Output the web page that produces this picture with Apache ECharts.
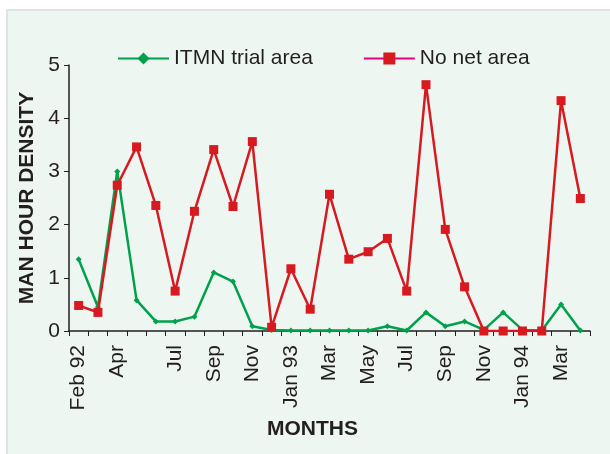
<!DOCTYPE html>
<html>
<head>
<meta charset="utf-8">
<script src="https://cdn.jsdelivr.net/npm/echarts@6/dist/echarts.min.js"></script>
<style>
  html, body { margin: 0; padding: 0; background: #fff; }
  #main { width: 610px; height: 454px; }
</style>
</head>
<body>
<div id="main"></div>
<script>
// monthly samples, Feb 1992 - Apr 1994
const months = ['Feb 92', 'Mar 92', 'Apr 92', 'May 92', 'Jun 92', 'Jul 92', 'Aug 92', 'Sep 92', 'Oct 92', 'Nov 92', 'Dec 92',
  'Jan 93', 'Feb 93', 'Mar 93', 'Apr 93', 'May 93', 'Jun 93', 'Jul 93', 'Aug 93', 'Sep 93', 'Oct 93', 'Nov 93', 'Dec 93',
  'Jan 94', 'Feb 94', 'Mar 94', 'Apr 94'];
// label printed under each month ('' = no label)
const tickLabels = ['Feb 92', '', 'Apr', '', '', 'Jul', '', 'Sep', '', 'Nov', '',
  'Jan 93', '', 'Mar', '', 'May', '', 'Jul', '', 'Sep', '', 'Nov', '',
  'Jan 94', '', 'Mar', ''];
const itmnTrial = [1.35, 0.45, 3.0, 0.58, 0.18, 0.18, 0.27, 1.1, 0.93, 0.09, 0.02,
  0.01, 0.01, 0.01, 0.01, 0.01, 0.09, 0.01, 0.35, 0.09, 0.18, 0.02, 0.35,
  0.02, 0.01, 0.5, 0.01];
const noNet = [0.48, 0.35, 2.74, 3.46, 2.36, 0.75, 2.25, 3.41, 2.34, 3.56, 0.07,
  1.17, 0.41, 2.57, 1.35, 1.49, 1.74, 0.75, 4.63, 1.91, 0.83, 0, 0,
  0, 0, 4.33, 2.49];

const GREEN = '#00a14b';
const RED = '#d71920';
const INK = '#231f20';
const FONT = 'Liberation Sans, Arial, sans-serif';

const chart = echarts.init(document.getElementById('main'));

const option = {
  backgroundColor: '#fff',
  textStyle: { fontFamily: FONT, color: INK },
  graphic: [
    {
      type: 'rect',
      z: -10,
      shape: { x: 7, y: 10, width: 620, height: 460 },
      style: { fill: '#eef6f1', stroke: '#dfe3e3', lineWidth: 2 }
    }
  ],
  legend: {
    left: 112,
    top: 43,
    itemWidth: 51,
    itemHeight: 15,
    itemGap: 50,
    textStyle: { fontSize: 21, color: INK, fontFamily: FONT },
    data: [
      { name: 'ITMN trial area' },
      { name: 'No net area', lineStyle: { color: '#e6007e' } }
    ]
  },
  grid: { left: 69, right: 20, top: 65, bottom: 123 },
  xAxis: {
    type: 'category',
    data: months,
    boundaryGap: true,
    name: 'MONTHS',
    nameLocation: 'middle',
    nameGap: 86,
    nameTextStyle: { fontSize: 21, fontWeight: 'bold', color: INK, padding: [0, 34, 0, 0] },
    axisLine: { lineStyle: { color: INK, width: 1.5 } },
    axisTick: { show: true, interval: 0, length: 5, lineStyle: { color: INK } },
    axisLabel: {
      interval: 0,
      rotate: 90,
      margin: 14,
      fontSize: 21,
      color: INK,
      formatter: (val, idx) => tickLabels[idx]
    },
    splitLine: { show: false }
  },
  yAxis: {
    type: 'value',
    min: 0,
    max: 5,
    interval: 1,
    name: 'MAN HOUR DENSITY',
    nameLocation: 'middle',
    nameGap: 29,
    nameTextStyle: { fontSize: 21, fontWeight: 'bold', color: INK },
    axisLine: { show: true, lineStyle: { color: INK, width: 1.5 } },
    axisTick: { show: true, length: 5, lineStyle: { color: INK } },
    axisLabel: { fontSize: 21, color: INK, margin: 9 },
    splitLine: { show: false }
  },
  series: [
    {
      name: 'ITMN trial area',
      type: 'line',
      data: itmnTrial,
      symbol: 'diamond',
      symbolSize: 6,
      z: 3,
      lineStyle: { color: GREEN, width: 2.5 },
      itemStyle: { color: GREEN }
    },
    {
      name: 'No net area',
      type: 'line',
      data: noNet,
      symbol: 'rect',
      symbolSize: 9,
      z: 4,
      lineStyle: { color: RED, width: 2.5 },
      itemStyle: { color: RED }
    }
  ]
};

chart.setOption(option);

window.addEventListener('resize', () => {
  chart.resize();
});
</script>
</body>
</html>
